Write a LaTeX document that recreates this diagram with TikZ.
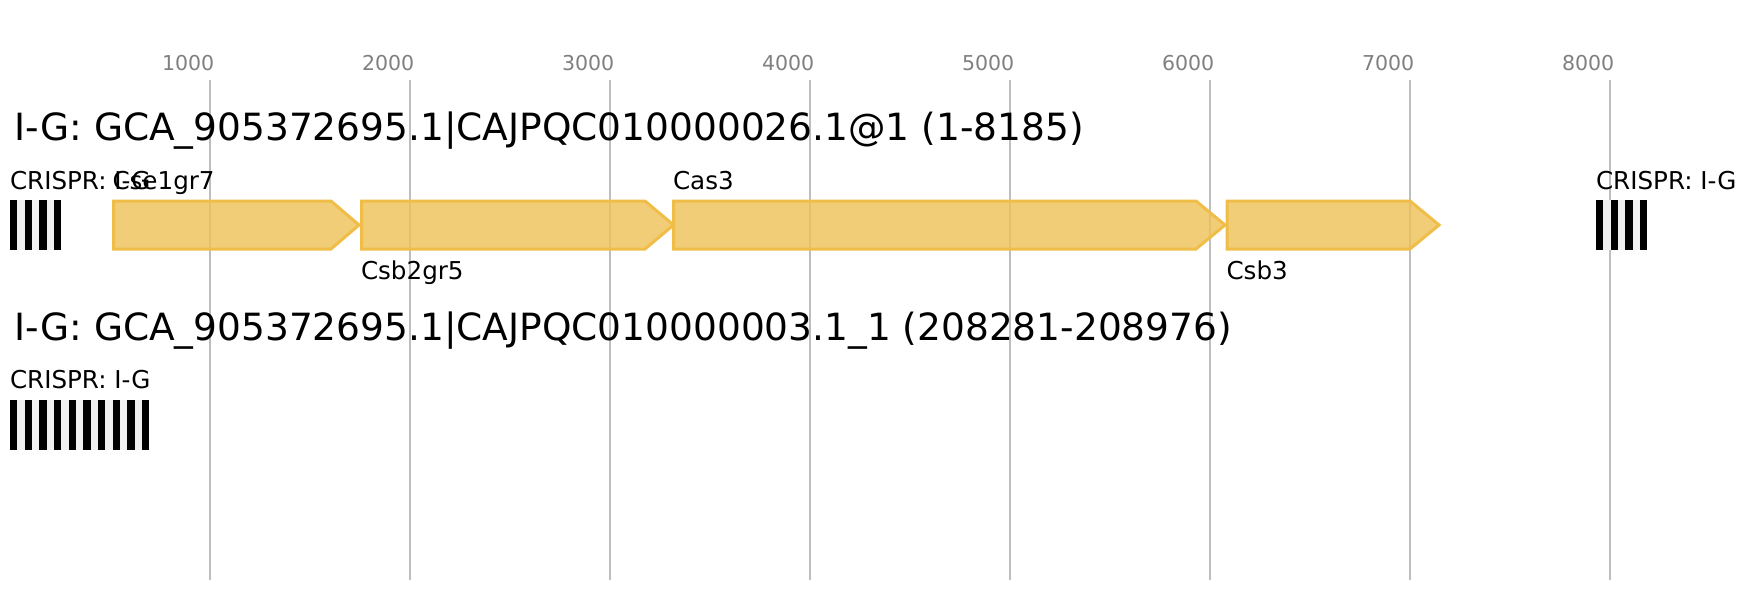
\documentclass[tikz,border=0pt]{standalone}
\usepackage{fontspec}
\setmainfont{DejaVu Sans}
\definecolor{tickgray}{RGB}{128,128,128}
\definecolor{gridgray}{RGB}{190,190,190}
\definecolor{genefill}{RGB}{237,193,84}
\definecolor{genestroke}{RGB}{240,190,72}
\definecolor{crgray}{RGB}{240,240,240}
\begin{document}
\begin{tikzpicture}[x=1pt,y=-1pt,
  lbl/.style={anchor=base west,inner sep=0pt,outer sep=0pt,font=\fontsize{24.6}{28}\selectfont},
  ttl/.style={anchor=base west,inner sep=0pt,outer sep=0pt,font=\fontsize{37.5}{42}\selectfont},
  ticklbl/.style={anchor=base,inner sep=0pt,outer sep=0pt,text=tickgray,font=\fontsize{20.5}{24}\selectfont},
  gridline/.style={draw=gridgray,line width=2pt},
  gene/.style={draw=genestroke,fill=genefill,fill opacity=0.8,line width=3pt,miter limit=10},
  crbg/.style={fill=crgray},
  crbar/.style={fill=black}]
\useasboundingbox (0,0) rectangle (1737,600);
\fill[white] (0,0) rectangle (1737,600);
% grid and ticks
\foreach \k in {1,...,8}{
  \pgfmathsetmacro{\gx}{209.7+200*(\k-1)}
  \coordinate (gt\k) at (\gx,80);
  \coordinate (gb\k) at (\gx,580);
  \draw[gridline] (gt\k) -- (gb\k);
  \node[ticklbl] (tk\k) at (\gx-21.5,70) {\k000};
}
% titles
\node[ttl] (title1) at (14.5,140) {I-G: GCA\_905372695.1|CAJPQC010000026.1@1 (1-8185)};
\node[ttl] (title2) at (14.5,340) {I-G: GCA\_905372695.1|CAJPQC010000003.1\_1 (208281-208976)};
% CRISPR arrays
\fill[crbg] (10,200) rectangle (61.3,250);
\foreach \i in {0,...,3}{\fill[crbar] ({10+14.667*\i},200) rectangle ({17.333+14.667*\i},250);}
\fill[crbg] (1596,200) rectangle (1647.3,250);
\foreach \i in {0,...,3}{\fill[crbar] ({1596+14.667*\i},200) rectangle ({1603.333+14.667*\i},250);}
\fill[crbg] (10,400) rectangle (149.3,450);
\foreach \i in {0,...,9}{\fill[crbar] ({10+14.667*\i},400) rectangle ({17.333+14.667*\i},450);}
\node[lbl] (cr1) at (10,189) {CRISPR: I-G};
\node[lbl] (cr2) at (1596,189) {CRISPR: I-G};
\node[lbl] (cr3) at (10,388) {CRISPR: I-G};
% genes
\draw[gene] (113.5,201) -- (331,201) -- (359,225) -- (331,249) -- (113.5,249) -- cycle;
\draw[gene] (361.5,201) -- (645,201) -- (673.5,225) -- (645,249) -- (361.5,249) -- cycle;
\draw[gene] (673.5,201) -- (1196,201) -- (1225,225) -- (1196,249) -- (673.5,249) -- cycle;
\draw[gene] (1227,201) -- (1410,201) -- (1439,225) -- (1410,249) -- (1227,249) -- cycle;
\node[lbl] (g1) at (112.5,189) {Cse1gr7};
\node[lbl] (g2) at (361,279) {Csb2gr5};
\node[lbl] (g3) at (673,189) {Cas3};
\node[lbl] (g4) at (1226.5,279) {Csb3};
\end{tikzpicture}
\end{document}
